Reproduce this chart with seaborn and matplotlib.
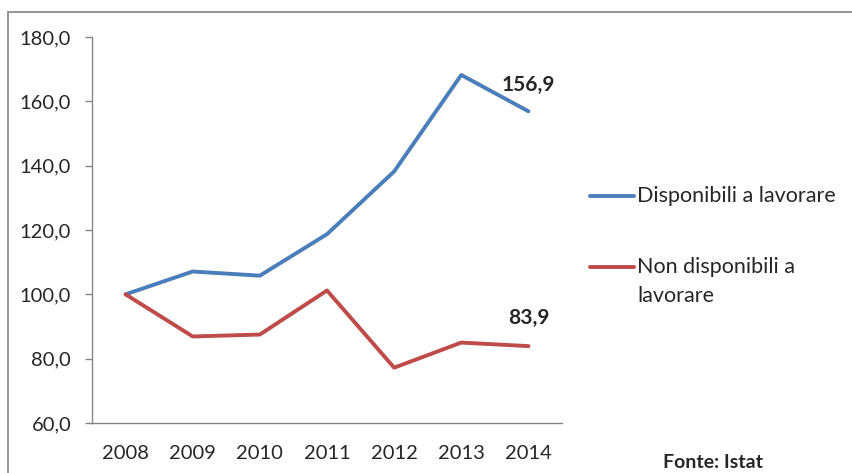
import matplotlib.pyplot as plt
import matplotlib.patches as patches
from matplotlib.lines import Line2D
import pandas as pd
import seaborn as sns

years = ['2008', '2009', '2010', '2011', '2012', '2013', '2014']
disponibili = [100.0, 107.1, 105.8, 118.7, 138.2, 168.2, 156.9]
non_disponibili = [100.0, 86.9, 87.5, 101.2, 77.2, 85.0, 83.9]
series_names = ['Disponibili a lavorare', 'Non disponibili a\nlavorare']
colors = ['#4A7EBB', '#BE4B48']

df = pd.DataFrame({
    'anno': years * 2,
    'valore': disponibili + non_disponibili,
    'serie': [series_names[0]] * len(years) + [series_names[1]] * len(years),
})

sns.set_style('white')
plt.rcParams['font.family'] = ['Lato', 'DejaVu Sans']

fig = plt.figure(figsize=(8.52, 4.73), dpi=100)
ax = fig.add_axes([92 / 852, 1 - 423 / 473, 470 / 852, 386 / 473])

sns.lineplot(data=df, x='anno', y='valore', hue='serie', palette=colors,
             linewidth=2.8, ax=ax, legend=False, sort=False)

ax.set_xlim(-0.5, len(years) - 0.5)
ax.set_ylim(60, 180)
ax.set_yticks(range(60, 181, 20))
ax.set_yticklabels([f'{v},0' for v in range(60, 181, 20)], fontsize=14.5)
ax.set_xticks(range(len(years)))
ax.set_xticklabels(years, fontsize=14.5)
ax.set_xticks([i - 0.5 for i in range(len(years) + 1)], minor=True)
ax.tick_params(axis='x', which='major', length=0, pad=16)
ax.tick_params(axis='x', which='minor', length=5, width=1, color='#868686', direction='out')
ax.tick_params(axis='y', length=5, width=1, color='#868686', direction='out', left=True, pad=10)
ax.set_xlabel('')
ax.set_ylabel('')
for side in ['top', 'right']:
    ax.spines[side].set_visible(False)
for side in ['left', 'bottom']:
    ax.spines[side].set_color('#868686')
    ax.spines[side].set_linewidth(1)

ax.annotate('156,9', (len(years) - 1, disponibili[-1]), xytext=(0, 19),
            textcoords='offset points', ha='center', va='center',
            fontsize=15, fontweight='bold')
ax.annotate('83,9', (len(years) - 1, non_disponibili[-1]), xytext=(0, 20),
            textcoords='offset points', ha='center', va='center',
            fontsize=15, fontweight='bold')

# legend drawn by hand to keep the handle on the first text line
leg_y = [1 - 196 / 473, 1 - 267 / 473]
line_gap = 29 / 473
for name, col, y in zip(series_names, colors, leg_y):
    fig.add_artist(Line2D([590 / 852, 634 / 852], [y, y], color=col, linewidth=2.8,
                          solid_capstyle='round'))
    for i, part in enumerate(name.split('\n')):
        fig.text(637 / 852, y - i * line_gap, part, fontsize=15.5, va='center', ha='left')

fig.text(713 / 852, 1 - 462 / 473, 'Fonte: Istat', fontsize=14, fontweight='bold',
         ha='center', va='center')

border = patches.Rectangle((8 / 852, -0.1), 1.0, 1 - 12 / 473 + 0.1, transform=fig.transFigure,
                           fill=False, edgecolor='#8c8c8c', linewidth=1.3)
fig.add_artist(border)

fig.savefig('out.png', dpi=100)
